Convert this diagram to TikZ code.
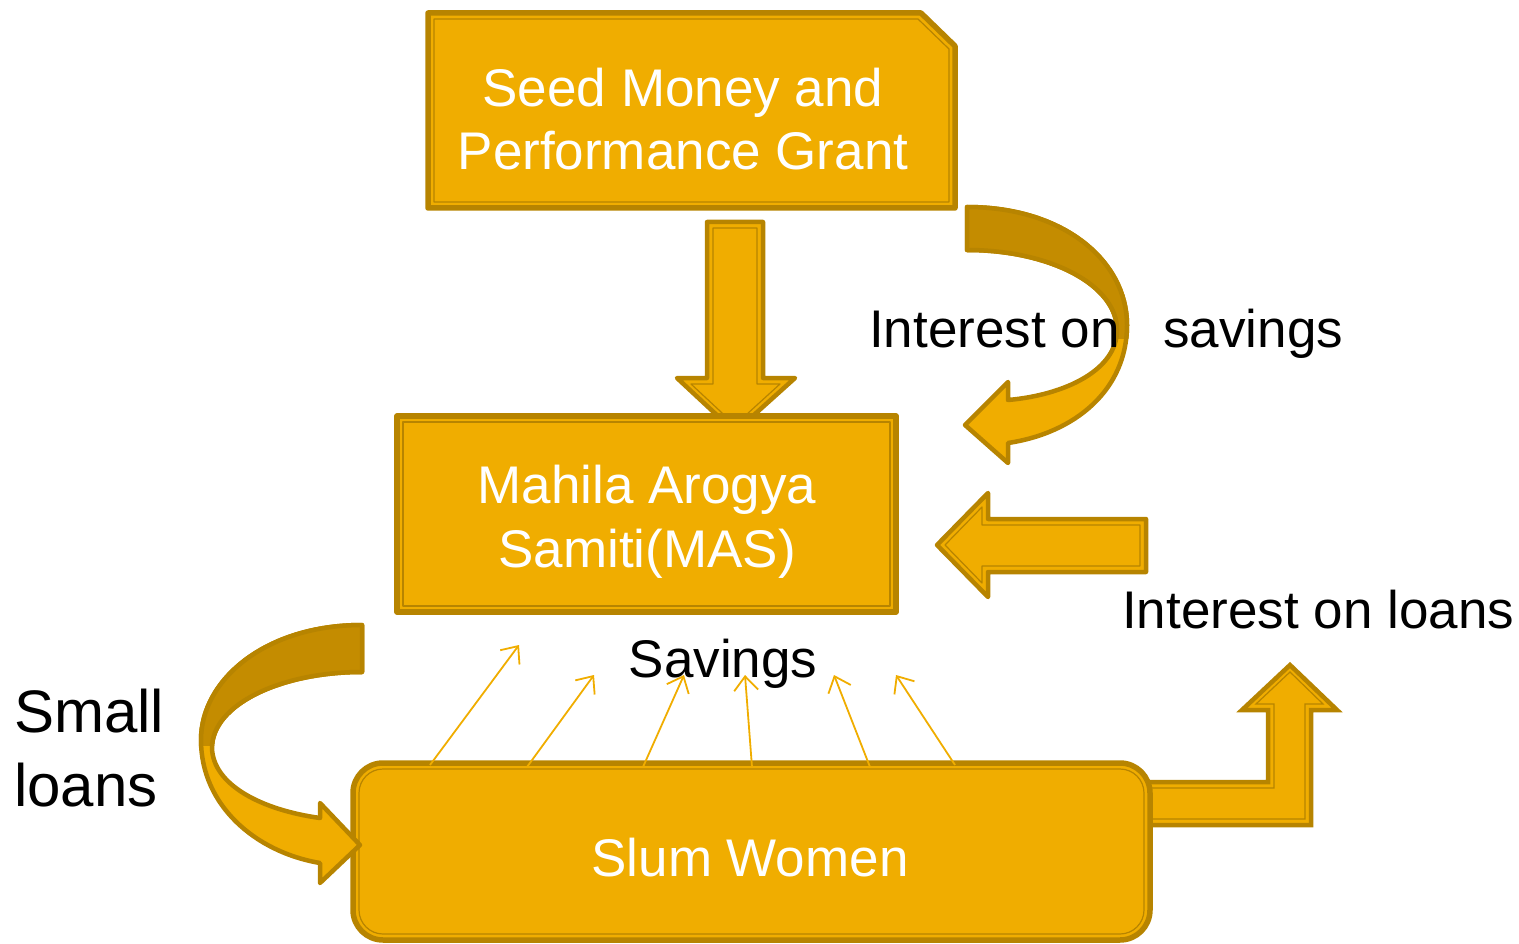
\documentclass[tikz,border=0pt]{standalone}
\usepackage{fontspec}
\setmainfont{Liberation Sans}
\usetikzlibrary{arrows.meta}
\definecolor{gold}{RGB}{240,173,0}
\definecolor{golddark}{RGB}{183,132,0}
\definecolor{goldback}{RGB}{196,140,0}
\tikzset{
  boxshape/.style={fill=gold, draw=golddark, line width=5.5pt, line join=round},
  innerline/.style={draw=golddark, line width=1.2pt, line join=round},
  arrowshape/.style={fill=gold, draw=golddark, line width=4.5pt, line join=round},
  wtext/.style={text=white, font=\fontsize{53}{63.6}\selectfont, align=center, inner sep=0pt},
  btext/.style={text=black, font=\fontsize{53}{63.6}\selectfont, inner sep=0pt},
  thinarrow/.style={draw=gold, line width=1.8pt, -{Straight Barb[length=14pt,width=24pt,line width=1.8pt]}},
}
\begin{document}
\begin{tikzpicture}[x=1pt,y=-1pt]
\useasboundingbox (0,0) rectangle (1519,944);

% top box
\path[boxshape] (428,13) -- (921,13) -- (955,46) -- (955,208) -- (428,208) -- cycle;
\draw[innerline] (434,19) -- (918,19) -- (949,49) -- (949,202) -- (434,202) -- cycle;

% down arrow
\path[arrowshape] (707,222) -- (763,222) -- (763,378) -- (795,378) -- (735,432) -- (677,378) -- (707,378) -- cycle;
\draw[innerline] (713,228) -- (757,228) -- (757,384) -- (780,384) -- (735,425) -- (691,384) -- (713,384) -- cycle;

% MAS box
\path[boxshape] (397,416) rectangle (896,612);
\draw[innerline] (403,422) rectangle (890,606);

% curved arrow: interest on savings
\path[arrowshape] (967,207) .. controls (1065,207) and (1127,262) .. (1127,325)
  .. controls (1127,390) and (1075,433) .. (1008,443)
  -- (1008,463) -- (965,425) -- (1008,382) -- (1008,400)
  .. controls (1065,395) and (1117,370) .. (1117,330)
  .. controls (1117,285) and (1050,250) .. (967,250) -- cycle;
\begin{scope}
  \clip (950,190) rectangle (1140,338);
  \path[arrowshape, fill=goldback] (967,207) .. controls (1065,207) and (1127,262) .. (1127,325)
  .. controls (1127,390) and (1075,433) .. (1008,443)
  -- (1008,463) -- (965,425) -- (1008,382) -- (1008,400)
  .. controls (1065,395) and (1117,370) .. (1117,330)
  .. controls (1117,285) and (1050,250) .. (967,250) -- cycle;
\end{scope}

% left arrow: interest on loans
\path[arrowshape] (1146,519) -- (988,519) -- (988,493) -- (937,545) -- (988,597) -- (988,572) -- (1146,572) -- cycle;
\draw[innerline] (1140,525) -- (982,525) -- (982,507) -- (945,545) -- (982,583) -- (982,566) -- (1140,566) -- cycle;

% bent arrow up
\path[arrowshape, line join=miter] (1140,782) -- (1268,782) -- (1268,710) -- (1242,710) -- (1290,665) -- (1337,710) -- (1311,710) -- (1311,825) -- (1140,825) -- cycle;
\draw[innerline, line join=miter] (1140,788) -- (1274,788) -- (1274,704) -- (1256,704) -- (1290,672) -- (1323,704) -- (1305,704) -- (1305,819) -- (1140,819) -- cycle;

% slum women box
\path[boxshape, rounded corners=30pt] (353,763) rectangle (1150,940);
\draw[innerline, rounded corners=24pt] (359,769) rectangle (1144,934);

% curved arrow: small loans
\path[arrowshape] (362,625) .. controls (265,625) and (201,680) .. (201,740)
  .. controls (201,805) and (255,852) .. (320,863)
  -- (320,883) -- (360,845) -- (320,803) -- (320,818)
  .. controls (262,810) and (213,785) .. (212,748)
  .. controls (212,705) and (280,672) .. (362,672) -- cycle;
\begin{scope}
  \clip (180,600) rectangle (380,745);
  \path[arrowshape, fill=goldback] (362,625) .. controls (265,625) and (201,680) .. (201,740)
  .. controls (201,805) and (255,852) .. (320,863)
  -- (320,883) -- (360,845) -- (320,803) -- (320,818)
  .. controls (262,810) and (213,785) .. (212,748)
  .. controls (212,705) and (280,672) .. (362,672) -- cycle;
\end{scope}

% thin savings arrows
\foreach \i/\ax/\ay/\bx/\by in {1/430/765/519/645, 2/527/767/594/675, 3/643/767/684/675, 4/752/767/745/675, 5/870/767/834/675, 6/955/765/896/675} {
  \coordinate (t\i) at (\ax,\ay);
  \coordinate (h\i) at (\bx,\by);
  \draw[thinarrow] (t\i) -- (h\i);
}

% texts (base anchor = baseline of last line)
\node[wtext, anchor=base] (seed) at (683,170) {Seed Money and\\Performance Grant};
\node[wtext, anchor=base] (mas) at (647,567) {Mahila Arogya\\Samiti(MAS)};
\node[wtext, anchor=base] (slum) at (750,876) {Slum Women};
\node[btext, anchor=base west] (intsav) at (869,347) {Interest on\hspace{29pt} savings};
\node[btext, anchor=base west] (intloan) at (1122,628) {Interest on loans};
\node[btext, anchor=base] (sav) at (723,677) {Savings};
\node[btext, anchor=base west, align=left, font=\fontsize{60}{74}\selectfont] (small) at (14,806) {Small\\loans};
\end{tikzpicture}
\end{document}
